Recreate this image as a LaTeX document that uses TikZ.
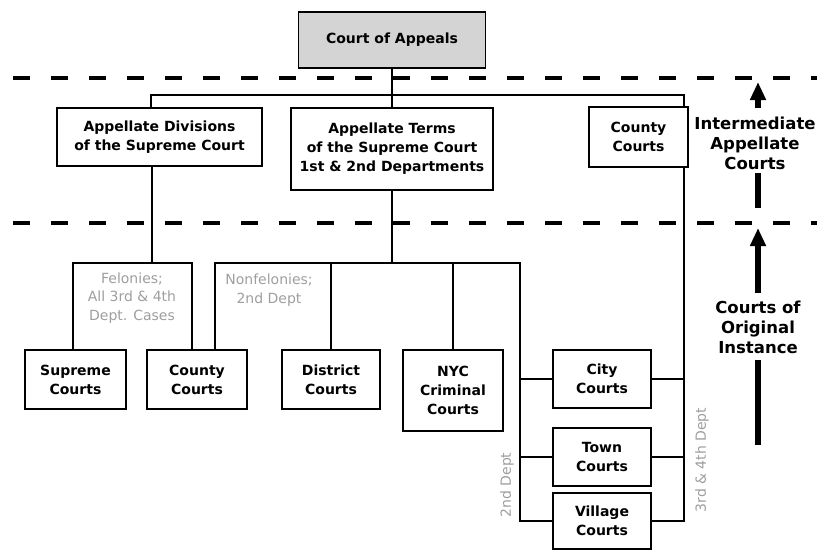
\documentclass[tikz,border=0pt]{standalone}
\usepackage{fontspec}
\setmainfont{DejaVu Sans}
\usetikzlibrary{arrows.meta}
\tikzset{
  court/.style={draw=black, line width=1.6pt, fill=white, inner sep=0pt, align=center,
    font=\bfseries\fontsize{14}{19}\selectfont},
  conn/.style={line width=1.8pt, line join=miter},
  note/.style={text=black!38, align=center, inner sep=0pt, font=\fontsize{14}{18.5}\selectfont},
  level/.style={align=center, inner sep=0pt, font=\bfseries\fontsize{16.5}{20}\selectfont},
  dashline/.style={line width=3.5pt, dash pattern=on 17pt off 21pt},
  bigarrow/.style={line width=6pt, -{Triangle[width=15pt,length=18pt]}},
  bar/.style={line width=6pt}
}
\begin{document}
\begin{tikzpicture}[x=1pt,y=-1pt]
\useasboundingbox (0,0) rectangle (817,550);
% boxes
\node[court, fill=black!17, minimum width=187pt, minimum height=56pt] (ca) at (392,40) {Court of Appeals};
\node[court, minimum width=205pt, minimum height=58pt] (ad) at (159.5,137) {Appellate Divisions\\of the Supreme Court};
\node[court, minimum width=202pt, minimum height=82pt] (at) at (392,149) {Appellate Terms\\of the Supreme Court\\1st \& 2nd Departments};
\node[court, minimum width=99pt, minimum height=60pt] (cc1) at (638.5,137) {County\\Courts};
\node[court, minimum width=101pt, minimum height=59pt] (sc) at (75.5,379.5) {Supreme\\Courts};
\node[court, minimum width=100pt, minimum height=59pt] (cc2) at (197,379.5) {County\\Courts};
\node[court, minimum width=98pt, minimum height=59pt] (dc) at (331,379.5) {District\\Courts};
\node[court, minimum width=100pt, minimum height=81pt] (nyc) at (453,390.5) {NYC\\Criminal\\Courts};
\node[court, minimum width=98pt, minimum height=58pt] (city) at (602,379) {City\\Courts};
\node[court, minimum width=98pt, minimum height=58pt] (town) at (602,457) {Town\\Courts};
\node[court, minimum width=98pt, minimum height=56pt] (village) at (602,521) {Village\\Courts};
% dashed separators
\coordinate (d1a) at (13,78); \coordinate (d1b) at (817,78);
\coordinate (d2a) at (13,223); \coordinate (d2b) at (817,223);
\draw[dashline] (d1a) -- (d1b);
\draw[dashline] (d2a) -- (d2b);
% junction coordinates
\coordinate (busL) at (151,95);
\coordinate (busR) at (684,95);
\coordinate (j1) at (152,263);
\coordinate (fa) at (73,263);
\coordinate (fb) at (192,263);
\coordinate (na) at (215,263);
\coordinate (nb) at (520,263);
% connectors
\draw[conn] (ca.south) -- (ca.south |- busL);
\draw[conn] (ad.north -| busL) -- (busL) -- (busR) -- (cc1.north -| busR);
\draw[conn] (ca.south |- busL) -- (at.north);
\draw[conn] (ad.south -| j1) -- (j1);
\draw[conn] (sc.north -| fa) -- (fa) -- (fb) -- (cc2.north -| fb);
\draw[conn] (at.south) -- (at.south |- nb);
\draw[conn] (cc2.north -| na) -- (na) -- (nb) -- (nb |- city.west) -- (city.west);
\draw[conn] (dc.north) -- (dc.north |- na);
\draw[conn] (nyc.north) -- (nyc.north |- na);
\draw[conn] (nb |- city.west) -- (nb |- village.west) -- (village.west);
\draw[conn] (nb |- town.west) -- (town.west);
\draw[conn] (cc1.south -| busR) -- (busR |- village.east) -- (village.east);
\draw[conn] (city.east) -- (city.east -| busR);
\draw[conn] (town.east) -- (town.east -| busR);
% gray notes
\node[note] (fel) at (132,298) {Felonies;\\All 3rd \& 4th\\Dept. Cases};
\node[note] (nonfel) at (269,290) {Nonfelonies;\\2nd Dept};
\node[note, rotate=90] (sec) at (507,485) {2nd Dept};
\node[note, rotate=90] (thr) at (702,460) {3rd \& 4th Dept};
% right-side levels
\node[level] (ial) at (755,143) {Intermediate\\Appellate\\Courts};
\node[level] (coi) at (758,327) {Courts of\\Original\\Instance};
\coordinate (a1t) at (758,82); \coordinate (a1b) at (758,108);
\coordinate (b1t) at (758,173); \coordinate (b1b) at (758,208);
\coordinate (a2t) at (758,228); \coordinate (a2b) at (758,293);
\coordinate (b2t) at (758,360); \coordinate (b2b) at (758,445);
\draw[bigarrow] (a1b) -- (a1t);
\draw[bar] (b1t) -- (b1b);
\draw[bigarrow] (a2b) -- (a2t);
\draw[bar] (b2t) -- (b2b);
\end{tikzpicture}
\end{document}
